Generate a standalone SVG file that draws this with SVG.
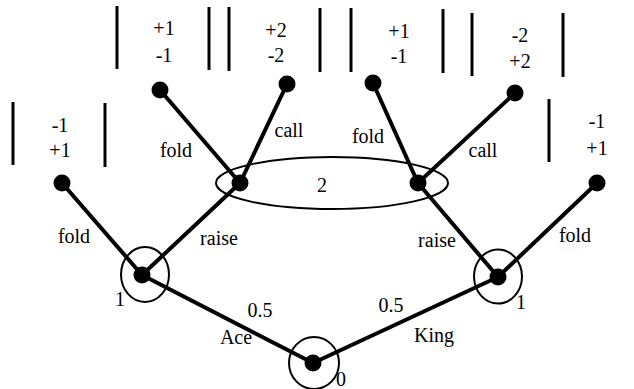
<svg xmlns="http://www.w3.org/2000/svg" width="634" height="389" viewBox="0 0 634 389">
<style>
text{font-family:"Liberation Serif","Times New Roman",serif;font-size:20px;fill:#000;text-anchor:middle}
.e{stroke:#000;stroke-width:4;fill:none;stroke-linecap:round}
.b{stroke:#000;stroke-width:3;fill:none}
.o{stroke:#000;stroke-width:2;fill:none}
.d{fill:#000}
</style>
<rect width="634" height="389" fill="#fff"/>
<g id="connectors">
<line class="e" x1="313" y1="363" x2="142" y2="275"/>
<line class="e" x1="313" y1="363" x2="498" y2="277"/>
<line class="e" x1="142" y1="275" x2="62" y2="183"/>
<line class="e" x1="142" y1="275" x2="240" y2="183"/>
<line class="e" x1="240" y1="183" x2="160" y2="90"/>
<line class="e" x1="240" y1="183" x2="287" y2="84"/>
<line class="e" x1="498" y1="277" x2="418" y2="183"/>
<line class="e" x1="498" y1="277" x2="597" y2="183"/>
<line class="e" x1="418" y1="183" x2="373" y2="83"/>
<line class="e" x1="418" y1="183" x2="515" y2="93"/>
<text x="260" y="317">0.5</text>
<text x="236" y="344">Ace</text>
<text x="391" y="312">0.5</text>
<text x="434" y="342">King</text>
<text x="74" y="243">fold</text>
<text x="219" y="245">raise</text>
<text x="437" y="247">raise</text>
<text x="575" y="242">fold</text>
<text x="176" y="157">fold</text>
<text x="289" y="137">call</text>
<text x="368" y="143">fold</text>
<text x="483" y="157">call</text>
</g>
<g id="root">
<ellipse class="o" cx="314" cy="363" rx="25" ry="26"/>
<circle class="d" cx="313" cy="363" r="8.5"/>
<text x="341" y="386">0</text>
</g>
<g id="p1-ace">
<ellipse class="o" cx="145" cy="274.5" rx="24" ry="27.5"/>
<circle class="d" cx="142" cy="275" r="8.5"/>
<text x="120" y="306">1</text>
</g>
<g id="p1-king">
<ellipse class="o" cx="498" cy="276.5" rx="24" ry="27"/>
<circle class="d" cx="498" cy="277" r="8.5"/>
<text x="521" y="309">1</text>
</g>
<g id="infoset-2">
<ellipse class="o" cx="332" cy="183" rx="116" ry="26"/>
<text x="322" y="192">2</text>
</g>
<g id="p2-ace">
<circle class="d" cx="240" cy="183" r="8.5"/>
</g>
<g id="p2-king">
<circle class="d" cx="418" cy="183" r="8.5"/>
</g>
<g id="leaf-ace-fold">
<circle class="d" cx="62" cy="183" r="8.5"/>
<line class="b" x1="13" y1="102" x2="13" y2="165"/>
<line class="b" x1="105" y1="103" x2="105" y2="167"/>
<text x="60" y="132">-1</text>
<text x="60" y="157">+1</text>
</g>
<g id="leaf-ace-raise-fold">
<circle class="d" cx="160" cy="90" r="8.5"/>
<line class="b" x1="117" y1="6" x2="117" y2="69"/>
<line class="b" x1="209" y1="7" x2="209" y2="70"/>
<text x="164" y="35">+1</text>
<text x="164" y="62">-1</text>
</g>
<g id="leaf-ace-raise-call">
<circle class="d" cx="287" cy="84" r="8.5"/>
<line class="b" x1="229" y1="7" x2="229" y2="71"/>
<line class="b" x1="320" y1="8" x2="320" y2="72"/>
<text x="276" y="37">+2</text>
<text x="276" y="62">-2</text>
</g>
<g id="leaf-king-raise-fold">
<circle class="d" cx="373" cy="83" r="8.5"/>
<line class="b" x1="351" y1="8" x2="351" y2="72"/>
<line class="b" x1="443" y1="9" x2="443" y2="73"/>
<text x="399" y="38">+1</text>
<text x="399" y="63">-1</text>
</g>
<g id="leaf-king-raise-call">
<circle class="d" cx="515" cy="93" r="8.5"/>
<line class="b" x1="472" y1="13" x2="472" y2="76"/>
<line class="b" x1="563" y1="13" x2="563" y2="77"/>
<text x="520" y="42">-2</text>
<text x="520" y="68">+2</text>
</g>
<g id="leaf-king-fold">
<circle class="d" cx="597" cy="183" r="8.5"/>
<line class="b" x1="549" y1="99" x2="549" y2="162"/>
<text x="597" y="128">-1</text>
<text x="597" y="155">+1</text>
</g>
</svg>
